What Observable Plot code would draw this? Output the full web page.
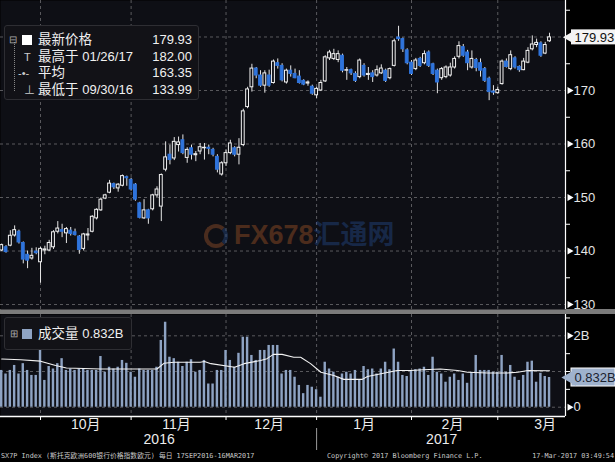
<!DOCTYPE html>
<html><head><meta charset="utf-8">
<script src="https://cdn.jsdelivr.net/npm/d3@7"></script>
<script src="https://cdn.jsdelivr.net/npm/@observablehq/plot@0.6"></script>
<style>
html,body{margin:0;padding:0;background:#000;}
#wrap{position:relative;width:615px;height:462px;overflow:hidden;background:#000;font-family:"Liberation Sans",Arial,"Noto Sans CJK SC",sans-serif;}
#wrap svg{display:block;}
.sep{height:5px;background:#7b7b7b;width:615px;}
.legend{position:absolute;background:#121217;border:1px solid #2e2e33;border-radius:3px;color:#f0f0f0;}
.row{position:absolute;left:0;right:0;height:16px;line-height:16px;white-space:nowrap;}
.lbl{position:absolute;left:33px;top:0;font-size:13.5px;font-family:"Liberation Sans",Arial,"Noto Sans CJK SC",sans-serif;}
.lbl .num{font-size:13px;}
.val{position:absolute;right:6px;top:0;font-size:13px;}
.ic{position:absolute;top:0;color:#aaa;font-size:11px;}
.tree{position:absolute;border-left:1px dotted #888;}
.cap{position:absolute;top:451px;height:10px;line-height:10px;font-size:6.8px;color:#c8c8c8;white-space:nowrap;font-family:"DejaVu Sans Mono","Noto Sans CJK SC",monospace;}
.wm{position:absolute;left:204px;top:213px;font-weight:bold;font-size:27px;opacity:0.32;white-space:nowrap;font-family:"Liberation Sans","Noto Sans CJK SC",sans-serif;}
</style></head>
<body>
<div id="wrap">
  <div id="price"></div>
  <div class="sep"></div>
  <div id="vol"></div>
</div>
<script>
// ---------- data ----------
const openP  = [140.1,140.7,141.0,142.9,143.6,141.5,139.3,138.6,139.9,137.9,140.1,140.1,140.7,143.6,143.9,143.3,143.8,143.5,142.7,140.4,142.9,143.6,146.1,147.6,149.8,150.9,152.5,151.7,152.2,153.8,153.3,152.4,148.9,146.1,147.6,147.8,150.4,148.3,155.2,158.0,157.3,159.8,160.7,157.4,159.2,157.9,158.6,159.2,159.3,158.9,157.6,154.3,156.4,158.3,159.2,158.0,159.8,166.9,170.6,174.1,172.8,170.9,172.8,171.4,175.1,174.6,171.5,173.7,173.1,172.6,171.8,171.3,170.7,169.1,170.0,171.7,176.0,175.9,175.7,176.5,173.7,173.8,173.1,172.5,174.6,172.9,173.2,172.8,173.2,173.7,172.3,174.6,179.9,179.6,177.5,175.2,174.0,175.9,175.1,177.1,174.9,173.7,172.3,172.5,172.8,174.3,176.3,178.1,177.1,174.3,175.7,175.1,174.0,172.2,169.8,169.5,171.2,175.4,174.0,176.0,174.4,173.8,175.2,177.7,178.5,178.8,176.9,179.2];
const highP  = [141.3,141.0,143.8,144.7,143.9,141.7,140.0,140.5,140.6,140.7,140.9,142.0,143.8,145.5,145.0,144.4,144.4,144.1,142.9,143.3,144.2,146.6,147.9,149.9,150.6,153.2,152.7,152.6,154.2,154.0,153.6,152.6,149.1,149.6,147.8,150.6,152.0,154.4,160.4,159.8,161.2,161.3,161.7,159.3,159.8,158.6,160.1,160.1,159.8,159.2,158.0,156.7,158.9,160.7,159.5,161.0,166.5,170.6,174.9,174.3,173.7,173.7,173.8,175.7,175.9,175.0,174.0,174.6,174.0,173.7,172.0,171.8,171.0,170.6,171.9,176.5,177.5,177.7,177.4,176.8,174.3,174.0,173.5,175.9,175.0,174.3,173.7,174.6,174.8,174.0,174.2,179.6,182.0,179.8,177.8,175.6,176.0,176.2,177.4,177.4,175.1,174.0,174.3,174.6,175.1,176.3,179.1,178.6,177.5,177.4,176.0,175.9,174.3,172.5,170.9,170.6,175.7,175.9,177.4,176.3,174.6,176.0,178.0,180.2,179.6,179.1,179.0,180.7];
const lowP   = [139.9,139.6,140.8,142.6,141.3,137.6,136.7,138.3,139.3,133.99,139.3,139.9,140.3,143.2,142.5,141.4,142.8,142.8,139.4,140.0,141.9,143.4,145.8,147.4,149.6,150.7,151.5,151.0,152.0,152.1,151.2,149.3,146.0,145.9,145.0,147.5,150.0,145.5,154.8,156.1,156.9,158.5,158.0,156.4,157.0,156.7,158.0,157.0,158.0,157.6,154.6,154.0,155.8,158.0,157.6,156.1,159.5,166.6,169.7,172.2,170.6,169.5,170.6,171.2,174.0,171.6,171.2,172.5,172.2,171.2,170.9,170.8,169.1,168.5,169.8,171.5,175.6,175.6,175.2,173.3,171.9,172.8,171.5,172.2,172.5,171.9,171.5,172.5,173.0,171.5,172.0,174.4,179.2,177.1,174.8,172.8,173.7,174.3,174.8,174.3,172.8,169.4,171.9,172.2,172.5,174.0,175.9,176.2,173.7,174.0,173.5,172.5,171.5,168.1,169.1,169.3,171.0,174.2,173.7,174.0,173.4,173.7,175.0,177.4,178.0,176.2,176.7,179.0];
const closeP = [141.1,139.8,142.85,143.9,141.6,138.4,138.2,139.1,139.6,140.4,140.3,141.5,143.5,144.2,143.6,144.1,143.2,143.0,140.2,143.1,143.1,146.4,147.7,149.6,150.4,152.6,151.9,152.4,154.0,153.6,151.5,149.6,146.2,147.6,146.1,150.4,151.5,154.2,157.5,157.0,160.4,160.3,158.3,158.9,158.0,158.1,159.4,159.3,159.1,158.0,155.2,156.4,158.3,160.1,158.0,159.3,166.1,170.2,174.1,172.8,170.9,173.2,170.9,175.4,174.6,171.9,173.7,173.1,172.3,171.4,171.1,171.5,169.4,170.3,171.4,176.2,177.1,176.8,176.8,173.7,173.8,173.2,171.8,175.6,172.8,173.1,172.5,173.8,174.1,171.8,174.0,179.2,179.6,177.7,175.1,173.1,175.6,174.6,176.8,174.6,173.1,171.5,174.0,174.3,174.3,175.9,178.3,176.5,175.1,175.9,174.2,173.7,171.8,169.7,169.6,170.1,175.4,174.4,176.6,174.3,173.8,175.4,177.4,178.6,178.9,176.5,178.5,179.93];
// volume, billions
const volume = [1.03,0.93,1.03,1.17,0.93,1.22,1.03,0.89,0.89,1.63,0.75,1.14,1.07,1.22,1.36,1.03,1.07,1.03,1.07,1.07,1.03,1.03,1.03,1.42,0.98,1.12,1.07,1.12,1.31,1.23,0.98,0.84,1.07,1.03,1.03,1.03,1.12,1.87,2.38,1.40,1.36,1.26,1.14,1.26,1.33,0.98,1.03,1.31,0.65,0.65,1.03,1.03,1.59,1.31,1.12,1.51,1.96,1.96,1.45,1.31,1.59,1.59,1.73,1.73,1.73,0.93,1.03,1.03,0.84,0.61,0.38,0.61,0.56,0.49,0.28,1.26,1.07,0.98,0.84,0.93,0.98,0.93,1.03,0.75,1.14,1.05,1.07,0.93,1.07,1.26,1.05,1.63,1.26,0.89,0.86,1.03,1.05,1.07,1.12,0.89,1.40,0.98,0.93,0.70,0.84,0.93,0.75,0.93,0.67,0.98,1.45,1.03,1.03,1.03,0.98,0.98,1.45,0.98,1.17,0.84,0.75,0.89,1.26,1.29,0.70,0.95,0.86,0.832];
// volume moving average, read at these trading-day positions
const maIdx = [0,4.4,9,12.5,15,23,36,37.6,40,46,47,48.5,54,56.2,60,61.5,63,65,67.7,69.3,71.6,74,77,79.3,83.6,84.8,88.5,91.7,94.8,97.8,101.7,105.7,108,112.6,117.3,119.6,122,127];
const maVal = [1.35,1.33,1.29,1.17,1.10,1.07,1.07,1.23,1.26,1.26,1.28,1.22,1.12,1.22,1.31,1.36,1.48,1.48,1.40,1.40,1.22,0.98,0.89,0.78,0.78,0.86,0.95,1.03,1.03,1.05,1.07,1.03,0.98,0.96,0.96,0.98,1.03,1.02];
// axis / calendar
const monthEnds = [9,30,52,73,95,115];          // last trading day of each month (index)
const monthLabels = ["10月","11月","12月","1月","2月","3月"];
const monthLabelPos = [19.5,40.5,62,84,104.5,126];
const yearLabels = ["2016","2017"];
const yearLabelPos = [36.5,102];
const yearSplit = [73];
const priceGrid = [130,140,150,160,170,180];
const priceLabels = [130,140,150,160,170];
const priceMinor = [135,145,155,165,175,185];
const volGrid = [0,1,2];
const volLabelVals = [0,2];
const volLabelText = ["0","2B"];
const volMinor = [0.5,1,1.5,2.5];
const lastPrice = 179.93, lastVolume = 0.832;

// ---------- build ----------
const candles = openP.map((o,i)=>({i, open:o, high:highP[i], low:lowP[i], close:closeP[i]}));
const vols = volume.map((v,i)=>({i, v}));
const ma = maIdx.map((x,k)=>({x, y:maVal[k]}));

const FONT = '"Liberation Sans", Arial, "Noto Sans CJK SC", sans-serif';
const BG = "#0e0f15", GRID = "#5a5a5e", BLUE = "#2f74dc", VOLC = "#8ea3c3";
const xMin = -0.28, xMax = 130.7, xEdge = 142.3;
const up = d => d.close >= d.open;

const price = Plot.plot({
  width: 615, height: 309,
  marginLeft: 0, marginRight: 50, marginTop: 0, marginBottom: 0,
  style: {background: "transparent", color: "#e0e0e0", fontFamily: FONT, overflow: "visible"},
  x: {domain: [xMin, xMax], axis: null},
  y: {domain: [129.07, 186.82], axis: null},
  marks: [
    Plot.frame({fill: BG, stroke: null}),
    Plot.ruleY(priceGrid, {stroke: GRID, strokeDasharray: "3,3"}),
    Plot.ruleX(monthEnds, {stroke: GRID, strokeDasharray: "3,3"}),
    Plot.ruleX(candles, {x: "i", y1: "low", y2: "high", stroke: "#e6e6e6", strokeWidth: 1}),
    Plot.rect(candles, {x1: d => d.i - 0.33, x2: d => d.i + 0.33, y1: "open", y2: "close",
      fill: d => up(d) ? BG : BLUE, stroke: d => up(d) ? "#f2f2f2" : BLUE, strokeWidth: 1}),
    Plot.ruleX([xMax], {stroke: "#fff", strokeWidth: 1.2}),
    Plot.axisY(priceMinor, {anchor: "right", label: null, tickSize: 4, tickFormat: () => "", stroke: "#fff"}),
    Plot.dot(priceLabels, {x: xMax, y: d => d, dx: 4, symbol: "triangle", rotate: 90, r: 2.6, fill: "#fff", stroke: null}),
    Plot.text(priceLabels, {x: xMax, y: d => d, dx: 8, textAnchor: "start", fill: "#e4e4e4", fontSize: 13, text: d => String(d)}),
    Plot.rect([lastPrice], {x1: xMax, x2: xEdge, y1: d => d, y2: d => d, insetTop: -7.5, insetBottom: -7.5, insetLeft: 6, fill: "#f4f4f4"}),
    Plot.dot([lastPrice], {x: xMax, y: d => d, dx: 5.5, symbol: "triangle", rotate: -90, r: 5.2, fill: "#f4f4f4", stroke: null}),
    Plot.text([lastPrice], {x: xMax, y: d => d, dx: 9, textAnchor: "start", fill: "#111", fontSize: 13, text: d => d.toFixed(2)})
  ]
});
document.getElementById("price").appendChild(price);

const vol = Plot.plot({
  width: 615, height: 136,
  marginLeft: 0, marginRight: 50, marginTop: 0, marginBottom: 34,
  style: {background: "transparent", color: "#e0e0e0", fontFamily: FONT, overflow: "visible"},
  x: {domain: [xMin, xMax], axis: null},
  y: {domain: [-0.26, 2.597], axis: null},
  marks: [
    Plot.frame({fill: BG, stroke: null}),
    Plot.ruleY(volGrid, {stroke: GRID, strokeDasharray: "3,3"}),
    Plot.ruleX(monthEnds, {stroke: GRID, strokeDasharray: "3,3"}),
    Plot.rect(vols, {x1: d => d.i - 0.28, x2: d => d.i + 0.28, y1: 0, y2: "v", fill: VOLC}),
    Plot.line(ma, {x: "x", y: "y", stroke: "#f2f2f2", strokeWidth: 1.1}),
    Plot.ruleX([xMax], {stroke: "#fff", strokeWidth: 1.2}),
    Plot.ruleY([-0.26], {stroke: "#fff", strokeWidth: 1.5}),
    Plot.axisY(volMinor, {anchor: "right", label: null, tickSize: 4, tickFormat: () => "", stroke: "#fff"}),
    Plot.dot(volLabelVals, {x: xMax, y: d => d, dx: 4, symbol: "triangle", rotate: 90, r: 2.6, fill: "#fff", stroke: null}),
    Plot.text(volLabelVals, {x: xMax, y: d => d, dx: 8, textAnchor: "start", fill: "#e4e4e4", fontSize: 13, text: (d, i) => volLabelText[i]}),
    Plot.rect([lastVolume], {x1: xMax, x2: xEdge, y1: d => d, y2: d => d, insetTop: -9, insetBottom: -9, insetLeft: 6, fill: "#9fb2cd", stroke: "#fff", strokeWidth: 1}),
    Plot.dot([lastVolume], {x: xMax, y: d => d, dx: 5.5, symbol: "triangle", rotate: -90, r: 6.2, fill: "#9fb2cd", stroke: null}),
    Plot.text([lastVolume], {x: xMax, y: d => d, dx: 9, textAnchor: "start", fill: "#1a2230", fontSize: 13, text: d => d.toFixed(3) + "B"}),
    Plot.axisX(monthEnds, {anchor: "bottom", label: null, tickSize: 4, tickFormat: () => "", stroke: "#fff"}),
    Plot.text(monthLabels, {x: monthLabelPos, frameAnchor: "bottom", dy: 12, fontSize: 14, fill: "#ececec", text: d => d}),
    Plot.text(yearLabels, {x: yearLabelPos, frameAnchor: "bottom", dy: 27, fontSize: 14, fill: "#ececec", text: d => d}),
    Plot.axisX(yearSplit, {anchor: "bottom", label: null, tickSize: 22, dy: 12, tickFormat: () => "", stroke: "#9a9a9a"})
  ]
});
document.getElementById("vol").appendChild(vol);

// ---------- legends, watermark, caption ----------
const wrap = document.getElementById("wrap");
function add(html){ wrap.insertAdjacentHTML("beforeend", html); }

add(`<div class="legend" style="left:4px;top:25px;width:193px;height:73px;">
  <div class="tree" style="left:9px;top:16px;height:49px;"></div>
  <div class="row" style="top:6px;"><span class="ic" style="left:4px;font-size:10px;">⊟</span>
    <span style="position:absolute;left:17px;top:3px;width:10px;height:10px;background:#fff;"></span>
    <span class="lbl">最新价格</span><span class="val">179.93</span></div>
  <div class="row" style="top:22.5px;"><span class="ic" style="left:19px;color:#ccc;">T</span>
    <span class="lbl">最高于 <span class="num">01/26/17</span></span><span class="val">182.00</span></div>
  <div class="row" style="top:39px;"><span class="ic" style="left:13px;color:#ccc;">-•-</span>
    <span class="lbl">平均</span><span class="val">163.35</span></div>
  <div class="row" style="top:55.5px;"><span class="ic" style="left:19px;color:#ccc;">⊥</span>
    <span class="lbl">最低于 <span class="num">09/30/16</span></span><span class="val">133.99</span></div>
</div>`);

add(`<div class="legend" style="left:4px;top:317px;width:126px;height:31px;">
  <div class="row" style="top:8px;"><span class="ic" style="left:5px;font-size:10px;">⊞</span>
    <span style="position:absolute;left:17px;top:3px;width:10px;height:10px;background:${VOLC};"></span>
    <span class="lbl">成交量 <span class="num">0.832B</span></span></div>
</div>`);

add(`<div class="wm"><span style="display:inline-block;width:24px;height:24px;border-radius:50%;border:4px solid #c86a32;border-right-color:#2f5fa8;vertical-align:-4px;margin-right:6px;box-sizing:border-box;"></span><span style="color:#d06a2c;">FX678</span><span style="color:#2a5db0;">汇通网</span></div>`);

add(`<div class="cap" style="left:1px;">SX7P Index (斯托克欧洲600银行价格指数欧元)  每日 17SEP2016-16MAR2017</div>`);
add(`<div class="cap" style="left:327px;">Copyright© 2017 Bloomberg Finance L.P.</div>`);
add(`<div class="cap" style="right:1px;">17-Mar-2017 03:49:54</div>`);
</script>
</body></html>
